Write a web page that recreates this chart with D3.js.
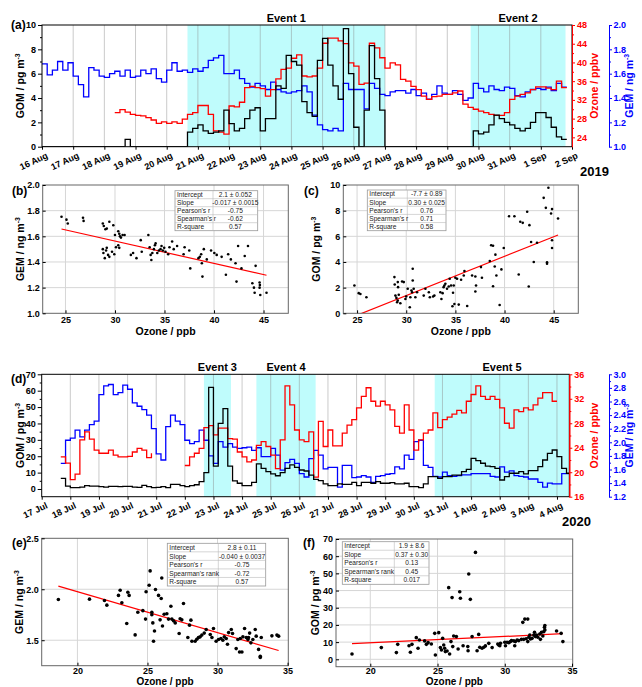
<html>
<head>
<script src="https://d3js.org/d3.v7.min.js"></script>
<style>
body { margin: 0; background: #fff; }
</style>
</head>
<body>
<div id="chart"></div>
<script>
/* ---------- Data: 2019 campaign, 4-hour steps ---------- */
var start2019 = new Date(Date.UTC(2019, 7, 16, 0));
var startO3_2019 = new Date(Date.UTC(2019, 7, 18, 8));
var gem2019 = [
  1.68,1.59,1.63,1.70,1.63,1.69, 1.58,1.51,1.41,1.65,1.63,1.58,
  1.57,1.60,1.62,1.58,1.63,1.57, 1.58,1.63,1.60,1.64,1.56,1.53,
  1.63,1.69,1.62,1.63,1.61,1.64, 1.62,1.65,1.71,1.73,1.75,1.60,
  1.60,1.63,1.56,1.52,1.49,1.52, 1.50,1.47,1.53,1.47,1.45,1.44,
  1.45,1.46,1.50,1.45,1.26,1.18, 1.14,1.13,1.15,1.13,1.52,1.47,
  1.47,1.47,1.31,1.52,1.48,1.43, 1.42,1.45,1.46,1.46,1.44,1.47,
  1.42,1.44,1.39,1.43,1.50,1.44, 1.43,1.46,1.43,1.38,1.40,1.52,
  1.48,1.45,1.50,1.47,1.46,1.49, 1.48,1.42,1.41,1.45,1.47,1.48,
  1.47,1.49,1.46,1.52,1.49
];
var gom2019 = [
  0,0,0,0,0,0, 0,0,0,0,0,0, 0,0,0,0,0.6,0, 0,0,0,0,0,0, 0,0,0,0,
  1.2,1.5,1.8,1.3,1.1,1.2,1.3,3.0,1.9,1.3,
  1.5,2.3,3.0,3.2,1.3,2.3,2.3,5.0,4.8,7.5,
  7.0,6.7,3.7,2.8,2.5,7.1,8.9,6.7,5.0,3.9,
  9.7,6.0,1.6,0,3.0,8.3,5.6,3.0,
  0,0,0,0,0,0,0,0,0,0,0,0,0,0,0,0,0,
  1.3,1.05,1.2,1.8,2.6,2.3,2.0,1.8,1.5,1.3,
  1.5,2.0,2.8,2.8,2.4,1.6,0.8,0.6
];
var o3_2019 = [
  29.3,29.9,29.4,28.9,28.7,28.6,28.2,27.7,27.0,27.3,
  27.0,27.3,27.0,27.9,28.9,29.3,30.8,30.8,28.9,25.4,
  25.1,24.7,30.7,30.5,31.5,34.6,34.9,34.6,34.4,32.8,
  34.2,36.5,38.5,38.8,40.9,41.6,37.1,36.9,37.1,38.8,
  44.1,45.2,45.2,44.6,44.0,39.9,39.2,35.3,35.6,44.1,
  43.1,41.0,38.8,39.9,39.5,36.4,36.0,34.9,34.2,32.8,
  32.1,32.7,32.8,33.2,33.2,33.5,33.9,31.1,30.4,30.0,
  29.6,29.3,28.9,28.7,28.7,29.3,32.1,32.8,33.2,33.5,
  34.2,34.8,34.8,34.5,34.2,36.0,34.6
];
var events2019 = [
  {name: "Event 1", from: new Date(Date.UTC(2019, 7, 20, 16)), to: new Date(Date.UTC(2019, 7, 27, 0))},
  {name: "Event 2", from: new Date(Date.UTC(2019, 7, 29, 18)), to: new Date(Date.UTC(2019, 8, 1, 19))}
];

/* ---------- Data: 2020 campaign, 4-hour steps ---------- */
var start2020 = new Date(Date.UTC(2020, 6, 17, 16));
var gem2020 = [
  1.69,2.03,2.06,2.18,2.08,2.18,2.26,2.31,2.70,2.83,
  2.85,2.70,2.73,2.84,2.78,2.58,2.53,2.48,2.40,2.20,
  1.83,1.74,2.23,2.40,2.31,2.26,2.03,1.98,2.01,2.18,
  2.03,1.80,1.69,2.01,1.93,1.98,1.93,1.91,1.92,1.93,
  1.88,1.92,1.79,1.79,1.91,1.81,1.59,1.70,1.75,1.69,
  1.54,1.49,1.76,1.88,1.81,1.61,1.63,1.63,1.34,1.66,
  1.66,1.48,1.49,1.51,1.49,1.41,1.50,1.51,1.53,1.54,
  1.64,1.61,1.81,1.75,2.01,2.03,1.66,1.63,1.50,1.49,
  1.56,1.51,1.50,1.51,1.52,1.52,1.54,1.54,1.54,1.54,
  1.50,1.49,1.64,1.56,1.58,1.51,1.50,1.49,1.46,1.46,
  1.41,1.34,1.40,1.39,1.39,1.54,1.54
];
var gom2020 = [
  6.5,1.8,0.8,0.8,1.2,2.0,1.8,1.8,1.4,1.2,
  1.6,1.6,1.4,1.6,1.6,1.2,1.0,2.2,1.4,0.8,
  1.0,1.4,0.8,2.8,2.8,2.0,1.4,2.0,2.6,4.5,
  10,62,14,40,49,14,5,3.5,2.0,2.0,
  4.0,15.3,12.6,10.6,9.2,8.1,10.0,12.6,14.7,13.2,
  11.6,11.0,8.5,5.9,5.1,3.1,2.0,2.0,3.1,2.8,
  2.8,4.1,2.0,4.1,4.1,3.5,4.5,3.5,3.5,3.9,
  3.1,3.1,3.5,1.4,1.4,0.8,3.1,7.5,7.5,6.5,
  7.5,7.5,8.5,8.5,10.6,12.0,18.7,17.3,15.7,14.0,
  13.6,12.6,5.5,7.5,9.6,9.6,10.6,9.2,11.2,11.2,
  13.6,17.7,21.8,23.8,19.7,12.6,9.6
];
var o3_2020 = [
  22.5,21.5,18.8,19.7,25.3,26.6,25.4,23.6,23.1,23.1,
  23.6,22.8,22.5,22.5,22.6,23.3,23.9,23.6,22.4,23.1,
  null,null,null,null,null,null,21.1,22.5,23.1,23.9,
  27.3,27.6,26.1,27.2,27.2,25.5,25.4,23.3,22.5,21.7,
  22.0,24.4,25.0,24.2,22.8,20.6,25.3,34.1,31.0,26.9,
  25.3,25.0,26.6,19.2,28.3,24.2,26.9,24.3,24.3,26.4,
  27.7,28.6,30.5,32.4,33.8,31.6,30.8,31.6,31.0,30.2,
  27.5,26.4,31.0,26.9,23.6,25.3,26.4,26.9,29.7,27.3,
  28.6,29.0,29.5,30.1,29.7,31.6,32.7,34.1,32.4,31.9,
  32.4,31.9,30.5,28.0,27.2,30.2,29.9,30.5,30.2,31.0,
  32.1,33.0,33.0,31.6
];
var events2020 = [
  {name: "Event 3", from: new Date(Date.UTC(2020, 6, 22, 16)), to: new Date(Date.UTC(2020, 6, 23, 14, 40))},
  {name: "Event 4", from: new Date(Date.UTC(2020, 6, 24, 12)), to: new Date(Date.UTC(2020, 6, 26, 13, 40))},
  {name: "Event 5", from: new Date(Date.UTC(2020, 6, 30, 17, 30)), to: new Date(Date.UTC(2020, 7, 4, 12))}
];

/* ---------- Data: scatter plots ---------- */
var bO3 = [24.6,25.1,25.23,26.77,26.83,28.77,28.87,29.03,29.17,29.43,29.83,30.0,30.33,30.43,30.5,30.6,30.77,30.97,28.77,28.83,28.97,29.1,29.17,29.3,29.43,29.7,29.93,30.1,30.33,30.43,31.6,31.83,32.17,32.6,32.7,33.37,33.5,33.6,33.67,33.77,33.93,34.03,34.1,34.27,34.43,34.6,34.7,34.83,34.97,35.1,35.37,35.5,35.77,35.93,36.27,36.93,37.03,37.5,37.6,38.43,38.57,38.7,38.77,38.83,38.97,39.27,39.7,40.03,40.27,40.77,41.2,41.43,41.7,42.17,42.27,42.43,42.77,43.1,43.43,43.87,44.03,44.1,44.2,44.6,44.63,44.6,44.67,45.3];
var bGEM = [1.753,1.73,1.70,1.745,1.72,1.70,1.68,1.655,1.66,1.714,1.686,1.61,1.64,1.62,1.60,1.59,1.61,1.61,1.50,1.47,1.43,1.49,1.51,1.455,1.44,1.48,1.46,1.515,1.53,1.51,1.455,1.47,1.43,1.57,1.48,1.61,1.515,1.455,1.415,1.47,1.50,1.53,1.545,1.47,1.49,1.50,1.525,1.49,1.51,1.48,1.46,1.515,1.56,1.50,1.525,1.46,1.515,1.49,1.35,1.43,1.44,1.46,1.39,1.286,1.50,1.42,1.49,1.47,1.455,1.44,1.30,1.46,1.42,1.39,1.247,1.525,1.35,1.447,1.525,1.234,1.20,1.16,1.37,1.24,1.22,1.20,1.143,1.16];
var cO3 = [24.73,25.17,25.34,25.95,28.8,28.83,28.9,29.0,29.14,29.07,29.24,29.17,29.14,29.4,29.58,29.75,29.92,30.0,30.15,30.36,30.42,30.53,30.6,30.66,30.66,30.76,30.93,31.1,31.78,31.95,32.3,32.4,32.73,32.86,33.47,33.58,33.7,33.8,33.88,33.98,34.15,34.32,34.42,34.56,34.7,34.76,34.83,34.9,35.0,35.17,35.34,35.58,35.85,35.92,36.2,36.7,37.03,37.1,37.03,37.6,37.7,38.5,38.64,38.83,38.83,39.0,39.07,39.17,39.5,39.68,39.92,40.46,41.0,41.44,41.6,41.85,42.3,42.46,42.53,42.7,42.97,43.3,43.98,44.2,44.32,44.32,44.46,44.73,44.83,44.83,44.83,45.44];
var cGOM = [2.17,1.57,1.51,1.25,2.82,2.25,1.38,1.2,0.99,0.86,1.44,2.04,2.43,0.78,2.48,2.43,1.12,1.31,1.91,0.47,1.25,1.78,1.64,2.56,3.47,1.91,1.25,1.64,1.38,1.91,1.64,1.25,1.31,1.38,1.64,1.12,1.57,2.04,2.17,2.3,1.91,2.09,2.69,2.17,0.55,1.6,2.17,0.73,2.77,2.69,0.68,2.61,2.95,3.29,0.57,2.95,2.87,2.17,1.7,3.6,2.77,4.07,5.3,5.27,2.11,3.65,4.57,2.95,0.65,3.42,5.09,7.57,7.57,3.03,7.13,7.05,7.91,2.09,6.87,5.56,4.0,5.5,9.0,8.22,3.86,3.97,9.79,7.78,8.12,5.69,5.09,7.39];
var eO3 = [18.64,20.86,21.93,22.1,22.93,23.05,23.17,23.52,23.6,23.69,24.12,24.31,24.67,24.86,24.9,25.12,25.19,25.31,25.31,25.38,25.43,25.5,25.57,25.79,25.9,25.98,26.02,26.07,26.19,26.38,26.5,26.67,26.74,26.86,26.98,27.26,27.33,27.45,27.57,27.88,28.0,28.1,28.17,28.4,28.52,28.64,28.76,28.88,29.05,29.19,29.48,29.6,29.71,29.9,30.07,30.24,30.38,30.48,30.62,30.71,30.79,30.98,31.07,31.33,31.45,31.57,31.74,31.62,31.81,31.93,32.05,32.17,32.29,32.21,32.38,32.52,32.69,32.76,32.93,33.05,33.05,33.12,33.88,34.24,34.36];
var eGEM = [1.9,1.903,1.89,1.844,1.94,1.99,1.867,1.664,1.97,1.94,1.552,1.775,1.79,1.707,1.975,2.04,2.18,1.775,1.75,1.67,1.49,1.59,1.998,1.94,1.70,1.91,2.11,1.64,1.755,1.76,1.707,1.834,1.707,1.69,1.67,1.566,1.71,1.70,1.86,1.526,1.648,1.697,1.49,1.49,1.51,1.526,1.533,1.55,1.57,1.605,1.556,1.526,1.615,1.49,1.507,1.517,1.5,1.533,1.517,1.46,1.575,1.605,1.566,1.418,1.507,1.385,1.385,1.517,1.533,1.615,1.526,1.507,1.57,1.526,1.474,1.507,1.605,1.54,1.41,1.343,1.33,1.526,1.543,1.55,1.54];
var fO3 = [18.64,20.82,21.94,22.04,22.88,22.98,23.1,23.42,23.55,23.65,24.04,24.17,24.3,24.54,24.79,24.84,25.09,25.21,25.29,25.38,25.46,25.53,25.58,25.71,25.83,25.9,26.0,26.08,26.13,26.2,26.4,26.53,26.65,26.7,26.9,27.25,27.27,27.32,27.44,27.57,27.82,27.94,28.06,28.14,28.31,28.44,28.56,28.81,29.06,29.48,29.55,29.63,29.68,30.0,30.05,30.17,30.3,30.42,30.5,30.67,30.74,30.79,30.92,31.04,31.24,31.34,31.41,31.49,31.59,31.71,31.71,31.79,31.86,31.91,32.03,32.16,32.21,32.28,32.36,32.46,32.6,32.65,32.73,32.83,32.9,32.95,32.98,32.98,33.85,34.19,34.32];
var fGOM = [3.1,6.8,3.9,8.7,7.9,4.1,8.7,12.6,6.4,11.2,10.7,8.7,9.7,8.9,15.1,2.5,15.5,6.8,5.4,12.2,8.3,6.4,4.5,4.8,41.7,3.1,10.3,35.9,7.4,13.6,13.2,6.0,39.3,35.5,7.9,7.4,5.0,49.6,34.9,13.2,62.2,5.0,14.5,7.0,6.4,7.0,7.8,9.3,6.8,8.9,8.3,7.9,9.3,9.9,7.9,9.9,9.7,10.3,10.9,10.7,7.9,10.3,11.2,10.9,11.6,21.5,11.6,23.4,12.0,23.4,10.3,12.8,14.1,11.8,12.2,14.1,15.7,13.2,14.1,12.8,14.7,11.6,15.7,13.6,16.1,18.6,19.6,17.1,16.5,15.1,10.3];

/* fit lines: intercept, slope */
var fitB = [2.085, -0.0174];
var fitC = [-7.8, 0.306];
var fitE = [2.78, -0.0402];
var fitF = [2.2, 0.37];

var statNames = ["Intercept", "Slope", "Pearson's r", "Spearman's r", "R-square"];
var statNames2020 = ["Intercept", "Slope", "Pearson's r", "Spearman's rank", "R-square"];
var statsB = ["2.1 \u00b1 0.052", "-0.017 \u00b1 0.0015", "-0.75", "-0.62", "0.57"];
var statsC = ["-7.7 \u00b1 0.89", "0.30 \u00b1 0.025", "0.76", "0.71", "0.58"];
var statsE = ["2.8 \u00b1 0.11", "-0.040 \u00b1 0.0037", "-0.75", "-0.72", "0.57"];
var statsF = ["1.9 \u00b1 8.6", "0.37 \u00b1 0.30", "0.13", "0.45", "0.017"];

/* ---------- Setup ---------- */
var FONT = '"Liberation Sans", Arial, sans-serif';
var RED = "#ff0000", BLUE = "#0000ff";
var H4 = 4 * 3600 * 1000;
var TICK = 9, TITLE = 10.5;

var svg = d3.select("#chart").append("svg")
  .attr("width", 642).attr("height", 687)
  .attr("font-family", FONT).attr("font-weight", "bold");

function steps(start, vals) {
  var pts = vals.map((v, i) => ({t: new Date(start.getTime() + i * H4), v: v}));
  pts.push({t: new Date(start.getTime() + vals.length * H4), v: vals[vals.length - 1]});
  return pts;
}

function styleAxis(g, color) {
  g.attr("font-family", FONT).attr("font-size", TICK).attr("font-weight", "bold");
  if (color) g.attr("color", color);
  return g;
}

function title(x, y, main, sup, opts) {
  opts = opts || {};
  var size = opts.size || TITLE;
  var t = svg.append("text")
    .attr("transform", `translate(${x},${y})` + (opts.rotate ? " rotate(-90)" : ""))
    .attr("text-anchor", "middle")
    .attr("font-size", size)
    .attr("fill", opts.color || "#000");
  t.append("tspan").text(main);
  if (sup) t.append("tspan").attr("dy", -size * 0.4).attr("font-size", size * 0.65).text(sup);
}

function panelLabel(x, y, s) {
  svg.append("text").attr("x", x).attr("y", y).attr("font-size", 12).text(s);
}

/* ---------- Time-series panel ---------- */
function timePanel(p) {
  var x = d3.scaleUtc().domain(p.xDomain).range([p.l, p.r]);
  var yG = d3.scaleLinear().domain(p.gomDomain).range([p.b, p.t]);
  var yO = d3.scaleLinear().domain(p.o3Domain).range([p.b, p.t]);
  var yM = d3.scaleLinear().domain(p.gemDomain).range([p.b, p.t]);

  svg.append("clipPath").attr("id", "clip" + p.id)
    .append("rect").attr("x", p.l).attr("y", p.t).attr("width", p.r - p.l).attr("height", p.b - p.t);

  var g = svg.append("g");
  var ev = g.selectAll(".ev").data(p.events).enter();
  ev.append("rect")
    .attr("x", d => x(d.from))
    .attr("y", p.t)
    .attr("width", d => Math.min(x(d.to), p.r) - x(d.from))
    .attr("height", p.b - p.t)
    .attr("fill", "#bffcfc");
  ev.append("text")
    .attr("x", d => (x(d.from) + Math.min(x(d.to), p.r)) / 2)
    .attr("y", p.t - 3.5)
    .attr("text-anchor", "middle")
    .attr("font-size", 11)
    .text(d => d.name);

  var days = x.ticks(d3.utcDay.every(1));
  g.selectAll(".grid").data(days.filter(d => x(d) > p.l + 1 && x(d) < p.r - 1)).enter()
    .append("line")
    .attr("x1", d => x(d)).attr("x2", d => x(d))
    .attr("y1", p.t).attr("y2", p.b)
    .attr("stroke", "#8a8a8a").attr("stroke-opacity", 0.45);

  var lines = g.append("g").attr("clip-path", `url(#clip${p.id})`)
    .attr("fill", "none").attr("stroke-width", 1.3);
  function draw(data, scale, color) {
    var line = d3.line().defined(d => d.v != null)
      .x(d => x(d.t)).y(d => scale(d.v)).curve(d3.curveStepAfter);
    lines.append("path").attr("d", line(data)).attr("stroke", color);
  }
  draw(p.gem, yM, BLUE);
  draw(p.o3, yO, RED);
  draw(p.gom, yG, "#000");

  svg.append("rect").attr("x", p.l).attr("y", p.t).attr("width", p.r - p.l).attr("height", p.b - p.t)
    .attr("fill", "none").attr("stroke", "#000");

  var xa = styleAxis(svg.append("g").attr("transform", `translate(0,${p.b})`)
    .call(d3.axisBottom(x).ticks(d3.utcDay.every(1)).tickFormat(d3.utcFormat("%-d %b")).tickSize(3).tickSizeOuter(0)));
  xa.select(".domain").remove();
  xa.selectAll("text").attr("y", 0).attr("dy", null).attr("text-anchor", "end")
    .attr("transform", "translate(6,11) rotate(-25)");

  var ya = styleAxis(svg.append("g").attr("transform", `translate(${p.l},0)`)
    .call(d3.axisLeft(yG).tickValues(p.gomTicks).tickSize(4).tickPadding(2).tickSizeOuter(0)));
  ya.select(".domain").remove();
  var ym = svg.append("g").attr("transform", `translate(${p.l},0)`)
    .call(d3.axisLeft(yG).tickValues(p.gomMinor).tickSize(2).tickFormat("").tickSizeOuter(0));
  ym.select(".domain").remove();

  styleAxis(svg.append("g").attr("transform", `translate(${p.r},0)`)
    .call(d3.axisRight(yO).tickValues(p.o3Ticks).tickSize(3).tickPadding(2).tickSizeOuter(0)), RED);
  svg.append("g").attr("transform", `translate(${p.r},0)`).attr("color", RED)
    .call(d3.axisRight(yO).tickValues(p.o3Minor).tickSize(2).tickFormat("").tickSizeOuter(0));

  styleAxis(svg.append("g").attr("transform", `translate(${p.gemX},0)`)
    .call(d3.axisRight(yM).tickValues(p.gemTicks).tickFormat(d3.format(".1f")).tickSize(3).tickPadding(1.5).tickSizeOuter(0)), BLUE);
  svg.append("g").attr("transform", `translate(${p.gemX},0)`).attr("color", BLUE)
    .call(d3.axisRight(yM).tickValues(p.gemMinor).tickSize(2).tickFormat("").tickSizeOuter(0));

  var mid = (p.t + p.b) / 2;
  title(24, mid, "GOM / pg m", "-3", {rotate: true});
  title(598, mid, "Ozone / ppbv", null, {rotate: true, color: RED});
  title(633, mid, "GEM / ng m", "-3", {rotate: true, color: BLUE});
  svg.append("text").attr("x", p.yearX).attr("y", p.yearY).attr("font-size", 13).text(p.year);
}

/* ---------- Scatter panel ---------- */
function scatterPanel(p) {
  var x = d3.scaleLinear().domain(p.xDomain).range([p.l, p.r]);
  var y = d3.scaleLinear().domain(p.yDomain).range([p.b, p.t]);

  svg.append("clipPath").attr("id", "clip" + p.id)
    .append("rect").attr("x", p.l).attr("y", p.t).attr("width", p.r - p.l).attr("height", p.b - p.t);

  var g = svg.append("g");
  g.selectAll(".gx").data(p.xTicks.filter(v => x(v) > p.l + 1 && x(v) < p.r - 1)).enter()
    .append("line").attr("x1", d => x(d)).attr("x2", d => x(d)).attr("y1", p.t).attr("y2", p.b)
    .attr("stroke", "#d6d6d6");
  g.selectAll(".gy").data(p.yTicks.filter(v => y(v) > p.t + 1 && y(v) < p.b - 1)).enter()
    .append("line").attr("y1", d => y(d)).attr("y2", d => y(d)).attr("x1", p.l).attr("x2", p.r)
    .attr("stroke", "#d6d6d6");

  var ext = d3.extent(p.xs);
  g.append("line").attr("clip-path", `url(#clip${p.id})`)
    .attr("x1", x(ext[0])).attr("y1", y(p.fit[0] + p.fit[1] * ext[0]))
    .attr("x2", x(ext[1])).attr("y2", y(p.fit[0] + p.fit[1] * ext[1]))
    .attr("stroke", RED).attr("stroke-width", 1.2);

  g.selectAll(".pt").data(p.xs).enter().append("circle")
    .attr("cx", d => x(d)).attr("cy", (d, i) => y(p.ys[i]))
    .attr("r", p.r0).attr("fill", "#000");

  svg.append("rect").attr("x", p.l).attr("y", p.t).attr("width", p.r - p.l).attr("height", p.b - p.t)
    .attr("fill", "none").attr("stroke", "#666");

  var xa = styleAxis(svg.append("g").attr("transform", `translate(0,${p.b})`)
    .call(d3.axisBottom(x).tickValues(p.xTicks).tickSize(-3).tickPadding(p.xPad).tickSizeOuter(0)));
  xa.select(".domain").remove();
  var ya = styleAxis(svg.append("g").attr("transform", `translate(${p.l},0)`)
    .call(d3.axisLeft(y).tickValues(p.yTicks).tickFormat(p.yFormat).tickSize(-3).tickPadding(3).tickSizeOuter(0)));
  ya.select(".domain").remove();

  /* stats table */
  var t = p.table, n = p.names.length, rh = t.h / n;
  var tg = svg.append("g").attr("font-weight", "normal").attr("font-size", 6.6).attr("fill", "#222");
  tg.append("rect").attr("x", t.x).attr("y", t.y).attr("width", t.w).attr("height", t.h)
    .attr("fill", "#fff").attr("stroke", "#999").attr("stroke-width", 0.8);
  tg.selectAll(".rl").data(d3.range(1, n)).enter().append("line")
    .attr("x1", t.x).attr("x2", t.x + t.w).attr("y1", d => t.y + d * rh).attr("y2", d => t.y + d * rh)
    .attr("stroke", "#bbb").attr("stroke-width", 0.6);
  tg.append("line").attr("x1", t.split).attr("x2", t.split).attr("y1", t.y).attr("y2", t.y + t.h)
    .attr("stroke", "#bbb").attr("stroke-width", 0.6);
  tg.selectAll(".nm").data(p.names).enter().append("text")
    .attr("x", t.x + 2).attr("y", (d, i) => t.y + (i + 0.5) * rh + 2.4).text(d => d);
  tg.selectAll(".vl").data(p.stats).enter().append("text")
    .attr("x", (t.split + t.x + t.w) / 2).attr("y", (d, i) => t.y + (i + 0.5) * rh + 2.4)
    .attr("text-anchor", "middle").text(d => d);

  title((p.l + p.r) / 2, p.xTitleY, "Ozone / ppb", null, {size: p.xTitleSize});
  title(p.yTitleX, (p.t + p.b) / 2, p.yName, "-3", {rotate: true});
}

/* ---------- Panels ---------- */
timePanel({
  id: "a", l: 42, r: 572, t: 25, b: 146.7, gemX: 609,
  xDomain: [new Date(Date.UTC(2019, 7, 16)), new Date(Date.UTC(2019, 8, 2))],
  gomDomain: [0, 10], gomTicks: d3.range(0, 10.1, 2), gomMinor: d3.range(1, 10, 2),
  o3Domain: [22, 48], o3Ticks: d3.range(24, 48.1, 4), o3Minor: d3.range(26, 48, 4),
  gemDomain: [1, 2], gemTicks: d3.range(1, 2.01, 0.2), gemMinor: d3.range(1.1, 2, 0.2),
  events: events2019,
  gem: steps(start2019, gem2019), gom: steps(start2019, gom2019), o3: steps(startO3_2019, o3_2019),
  year: "2019", yearX: 580, yearY: 176
});
panelLabel(11, 29, "(a)");

timePanel({
  id: "d", l: 41.7, r: 569.3, t: 374.3, b: 496.7, gemX: 609,
  xDomain: [new Date(Date.UTC(2020, 6, 17)), new Date(Date.UTC(2020, 7, 4, 10, 20))],
  gomDomain: [-4.7, 70], gomTicks: d3.range(0, 70.1, 10), gomMinor: d3.range(5, 70, 10),
  o3Domain: [16, 36], o3Ticks: d3.range(16, 36.1, 4), o3Minor: d3.range(18, 36, 4),
  gemDomain: [1.2, 3.0], gemTicks: d3.range(1.2, 3.01, 0.2), gemMinor: d3.range(1.3, 3.0, 0.2),
  events: events2020,
  gem: steps(start2020, gem2020), gom: steps(start2020, gom2020), o3: steps(start2020, o3_2020),
  year: "2020", yearX: 562, yearY: 526
});
panelLabel(11, 383, "(d)");

scatterPanel({
  id: "b", l: 42.7, r: 288.3, t: 185, b: 313.3,
  xDomain: [22.7, 47.5], yDomain: [1, 2],
  xTicks: [25, 30, 35, 40, 45], yTicks: d3.range(1, 2.01, 0.2), yFormat: d3.format(".1f"),
  xs: bO3, ys: bGEM, fit: fitB, r0: 1.3,
  names: statNames, stats: statsB,
  table: {x: 175, y: 190.7, w: 82.7, h: 40, split: 213},
  yName: "GEM / ng m", yTitleX: 24, xTitleY: 335, xTitleSize: 10.5, xPad: 3
});
panelLabel(12, 195, "(b)");

scatterPanel({
  id: "c", l: 343.3, r: 578.3, t: 185, b: 313.3,
  xDomain: [23.6, 47.5], yDomain: [0, 10],
  xTicks: [25, 30, 35, 40, 45], yTicks: d3.range(0, 10.1, 2), yFormat: d3.format("d"),
  xs: cO3, ys: cGOM, fit: fitC, r0: 1.3,
  names: statNames, stats: statsC,
  table: {x: 367.3, y: 190, w: 78.7, h: 40.7, split: 407.3},
  yName: "GOM / pg m", yTitleX: 320, xTitleY: 335, xTitleSize: 10.5, xPad: 3
});
panelLabel(304, 195, "(c)");

scatterPanel({
  id: "e", l: 41.7, r: 288.3, t: 538.3, b: 665.7,
  xDomain: [17.45, 35.05], yDomain: [1.25, 2.5],
  xTicks: [20, 25, 30, 35], yTicks: [1.5, 2.0, 2.5], yFormat: d3.format(".1f"),
  xs: eO3, ys: eGEM, fit: fitE, r0: 1.8,
  names: statNames2020, stats: statsE,
  table: {x: 167.3, y: 543.3, w: 98.4, h: 42.7, split: 218.3},
  yName: "GEM / ng m", yTitleX: 23, xTitleY: 684.8, xTitleSize: 10, xPad: 1.5
});
panelLabel(12, 547, "(e)");

scatterPanel({
  id: "f", l: 336, r: 572.7, t: 539, b: 666.7,
  xDomain: [17.45, 35.05], yDomain: [-4.3, 70],
  xTicks: [20, 25, 30, 35], yTicks: d3.range(0, 70.1, 10), yFormat: d3.format("d"),
  xs: fO3, ys: fGOM, fit: fitF, r0: 1.8,
  names: statNames2020, stats: statsF,
  table: {x: 342.3, y: 541.7, w: 86.7, h: 42.6, split: 394.3},
  yName: "GOM / pg m", yTitleX: 319, xTitleY: 684.8, xTitleSize: 10, xPad: 1
});
panelLabel(303, 547, "(f)");
</script>
</body>
</html>
